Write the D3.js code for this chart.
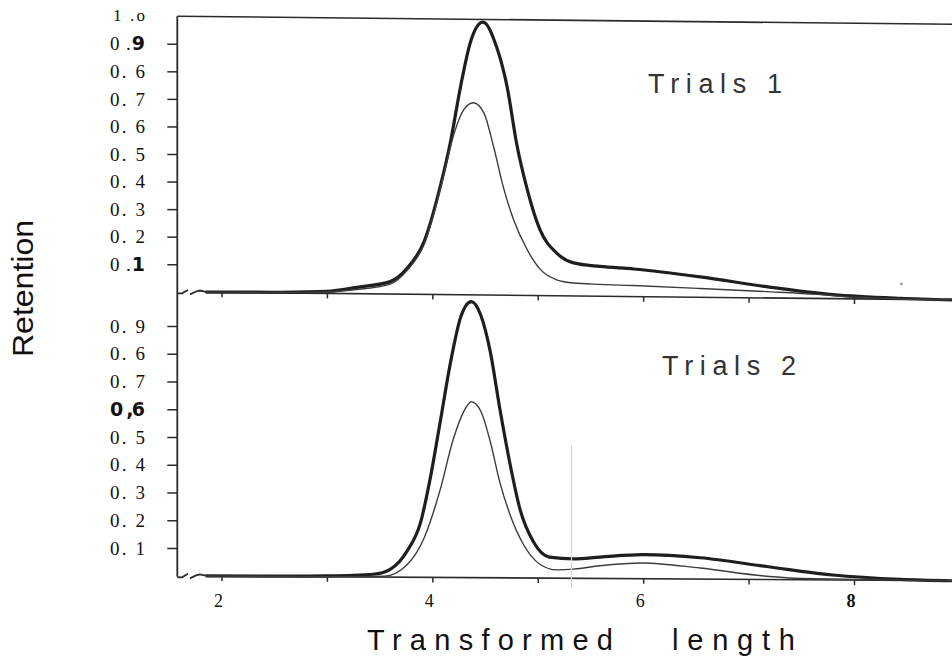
<!DOCTYPE html>
<html>
<head>
<meta charset="utf-8">
<script src="https://cdn.jsdelivr.net/npm/d3@7"></script>
<style>
  html, body { margin: 0; padding: 0; background: #fff; }
  svg { display: block; }
</style>
</head>
<body>
<svg class="chart" width="952" height="660"></svg>
<script>
// ---- data ----
const trial1UpperX = [1.85, 2.5, 3.0, 3.3, 3.6, 3.76, 3.92, 4.08, 4.17, 4.27, 4.36, 4.48, 4.61, 4.71, 4.80, 4.90, 5.02, 5.18, 5.34, 5.59, 5.91, 6.54, 7.17, 7.80, 8.44, 8.95];
const trial1UpperY = [0.0, 0.002, 0.007, 0.024, 0.045, 0.094, 0.19, 0.40, 0.55, 0.76, 0.915, 0.99, 0.90, 0.755, 0.55, 0.385, 0.24, 0.155, 0.12, 0.108, 0.10, 0.074, 0.041, 0.015, 0.004, 0.0];

const trial1LowerX = [1.85, 2.5, 3.0, 3.3, 3.6, 3.76, 3.92, 4.08, 4.20, 4.30, 4.39, 4.49, 4.58, 4.68, 4.77, 4.90, 5.02, 5.18, 5.34, 5.59, 5.91, 6.54, 7.17, 7.65, 8.0, 8.95];
const trial1LowerY = [0.0, 0.001, 0.005, 0.016, 0.036, 0.086, 0.18, 0.39, 0.577, 0.673, 0.697, 0.66, 0.54, 0.383, 0.275, 0.166, 0.097, 0.058, 0.047, 0.043, 0.04, 0.032, 0.023, 0.015, 0.006, 0.0];

const trial2UpperX = [1.85, 2.5, 3.0, 3.44, 3.60, 3.76, 3.89, 3.98, 4.07, 4.17, 4.27, 4.37, 4.46, 4.55, 4.64, 4.74, 4.83, 4.96, 5.11, 5.34, 5.59, 6.0, 6.54, 7.17, 7.80, 8.44, 8.95];
const trial2UpperY = [0.0, 0.001, 0.003, 0.01, 0.028, 0.094, 0.20, 0.357, 0.55, 0.77, 0.94, 0.995, 0.946, 0.814, 0.61, 0.405, 0.25, 0.13, 0.076, 0.07, 0.077, 0.087, 0.077, 0.047, 0.018, 0.004, 0.0];

const trial2LowerX = [1.85, 3.0, 3.54, 3.76, 3.92, 4.07, 4.20, 4.30, 4.37, 4.46, 4.55, 4.64, 4.74, 4.87, 5.02, 5.18, 5.34, 5.59, 6.0, 6.54, 7.17, 7.5, 8.95];
const trial2LowerY = [0.0, 0.0, 0.003, 0.045, 0.14, 0.31, 0.50, 0.60, 0.634, 0.60, 0.49, 0.345, 0.225, 0.117, 0.05, 0.03, 0.033, 0.046, 0.057, 0.04, 0.012, 0.005, 0.0];

const xTickValues = [2, 3, 4, 5, 6, 7, 8];
const xLabelValues = [2, 4, 6, 8];
const xLabels = ["2", "4", "6", "*8"];
const yTickValues = [0.9, 0.8, 0.7, 0.6, 0.5, 0.4, 0.3, 0.2, 0.1];
// "*" marks where the bold part of a printed label starts
const topYLabels = ["0 .*9", "0. 6", "0. 7", "0. 6", "0. 5", "0. 4", "0. 3", "0. 2", "0 .*1"];
const bottomYLabels = ["0. 9", "0. 6", "0. 7", "*0 ,6", "0. 5", "0. 4", "0. 3", "0. 2", "0. 1"];
const topLabel = "1 .o";
const panelTitles = ["Trials 1", "Trials 2"];

// ---- layout ----
const SPINE_X = 177.3;
const RIGHT_X = 952;
const INK = "#2b2b2b";
const SERIF = "'Liberation Serif', 'DejaVu Serif', serif";
const SANS = "'Liberation Sans', Arial, sans-serif";

const svg = d3.select("svg.chart");

const x = d3.scaleLinear().domain([2, 8]).range([221.5, 854]);
const yTop = d3.scaleLinear().domain([0, 1]).range([291.8, 16.2]);
const yBottom = d3.scaleLinear().domain([0, 1]).range([575.75, 298.25]);

const toPoints = (xs, ys) => xs.map((v, i) => [v, ys[i]]);

const panels = [
    {y: yTop, skew: 0.6, labels: topYLabels, title: panelTitles[0], titleX: 648, titleY: 93,
     series: [toPoints(trial1UpperX, trial1UpperY), toPoints(trial1LowerX, trial1LowerY)]},
    {y: yBottom, skew: 0.37, labels: bottomYLabels, title: panelTitles[1], titleX: 662, titleY: 375,
     series: [toPoints(trial2UpperX, trial2UpperY), toPoints(trial2LowerX, trial2LowerY)]}
];

const addLabelText = (sel, label, boldFont) => {
    const parts = label.split("*");
    sel.append("tspan").text(parts[0]);
    if (parts.length > 1) {
        sel.append("tspan")
            .attr("font-family", boldFont)
            .attr("font-weight", "bold")
            .text(parts[1]);
    }
};

panels.forEach((p, pi) => {
    const y = p.y;
    const y0 = y(0);

    // y ticks (not skewed)
    const yAxis = d3.axisLeft(y).tickValues(yTickValues).tickSize(10).tickFormat("");
    const ya = svg.append("g").attr("transform", `translate(${SPINE_X},0)`).call(yAxis);
    ya.select(".domain").remove();
    ya.selectAll("line").attr("stroke", INK).attr("stroke-width", 1.5);

    const labels = svg.append("g")
        .attr("font-family", SERIF)
        .attr("font-size", 19)
        .attr("fill", "#111");
    yTickValues.forEach((v, i) => {
        const t = labels.append("text")
            .attr("x", 110)
            .attr("y", y(v))
            .attr("dy", "0.35em")
            .attr("textLength", 35)
            .attr("lengthAdjust", "spacing");
        addLabelText(t, p.labels[i], "'DejaVu Sans', sans-serif");
    });
    if (pi === 0) {
        labels.append("text")
            .attr("x", 113).attr("y", y(1)).attr("dy", "0.3em")
            .attr("font-size", 17)
            .attr("textLength", 32).attr("lengthAdjust", "spacing")
            .text(topLabel);
    }

    // plot area, slightly skewed like the scanned original
    const g = svg.append("g")
        .attr("transform", `translate(${SPINE_X},0) skewY(${p.skew}) translate(${-SPINE_X},0)`);

    if (pi === 0) {
        g.append("line")
            .attr("x1", SPINE_X).attr("x2", RIGHT_X)
            .attr("y1", y(1)).attr("y2", y(1))
            .attr("stroke", INK).attr("stroke-width", 1.6);
    }

    // baseline with axis-break marks
    g.append("path")
        .attr("d", `M${SPINE_X},${y0 + 1.5} L182,${y0 + 1.5} L188,${y0 - 2} ` +
                   `M190,${y0 + 2.5} L196,${y0 - 0.5} L200,${y0 - 1.5} L207,${y0}`)
        .attr("fill", "none").attr("stroke", INK).attr("stroke-width", 1.8);
    g.append("line")
        .attr("x1", 207).attr("x2", RIGHT_X)
        .attr("y1", y0).attr("y2", y0)
        .attr("stroke", INK).attr("stroke-width", 1.6);

    const xAxis = d3.axisBottom(x).tickValues(xTickValues).tickSize(5).tickFormat("");
    const xa = g.append("g").attr("transform", `translate(0,${y0})`).call(xAxis);
    xa.select(".domain").remove();
    xa.selectAll("line").attr("stroke", INK).attr("stroke-width", 1.5);

    const line = d3.line()
        .x(d => x(d[0]))
        .y(d => y(d[1]))
        .curve(d3.curveMonotoneX);

    g.selectAll("path.curve")
        .data(p.series)
        .enter().append("path")
        .attr("class", "curve")
        .attr("d", line)
        .attr("fill", "none")
        .attr("stroke", (d, i) => i === 0 ? "#1e1e1e" : "#3c3c3c")
        .attr("stroke-width", (d, i) => i === 0 ? 3.2 : 1.4)
        .attr("stroke-linejoin", "round");

    if (pi === 0) {
        // speck on the scan
        g.append("circle")
            .attr("cx", x(8.45)).attr("cy", y(0.056)).attr("r", 1.4)
            .attr("fill", "#999");
    } else {
        // faint cyan scan line
        g.append("line")
            .attr("x1", x(5.32)).attr("x2", x(5.32))
            .attr("y1", y(0.48)).attr("y2", y(-0.035))
            .attr("stroke", "#b5e4ec").attr("stroke-width", 1.2);
    }

    svg.append("text")
        .attr("x", p.titleX).attr("y", p.titleY)
        .attr("font-family", SANS)
        .attr("font-size", 27)
        .attr("fill", "#333")
        .attr("textLength", 134).attr("lengthAdjust", "spacing")
        .text(p.title);
});

// left spine across both panels
svg.append("line")
    .attr("x1", SPINE_X).attr("x2", SPINE_X)
    .attr("y1", yTop(1)).attr("y2", yBottom(0) + 1)
    .attr("stroke", INK).attr("stroke-width", 1.8);

// x tick labels under the bottom panel
const xl = svg.append("g")
    .attr("font-family", SERIF)
    .attr("font-size", 18)
    .attr("fill", "#111")
    .attr("text-anchor", "middle");
xLabelValues.forEach((v, i) => {
    const t = xl.append("text").attr("x", x(v) - 3).attr("y", 607);
    addLabelText(t, xLabels[i], SERIF);
});

// axis titles
const xTitle = svg.append("text")
    .attr("y", 650)
    .attr("font-family", SANS)
    .attr("font-size", 29)
    .attr("fill", "#111");
xTitle.append("tspan").attr("x", 367).attr("textLength", 246).attr("lengthAdjust", "spacing").text("Transformed");
xTitle.append("tspan").attr("x", 672).attr("textLength", 123).attr("lengthAdjust", "spacing").text("length");

svg.append("text")
    .attr("transform", "translate(33,288.5) rotate(-90)")
    .attr("text-anchor", "middle")
    .attr("font-family", SANS)
    .attr("font-size", 30)
    .attr("fill", "#111")
    .attr("textLength", 137).attr("lengthAdjust", "spacingAndGlyphs")
    .text("Retention");
</script>
</body>
</html>
